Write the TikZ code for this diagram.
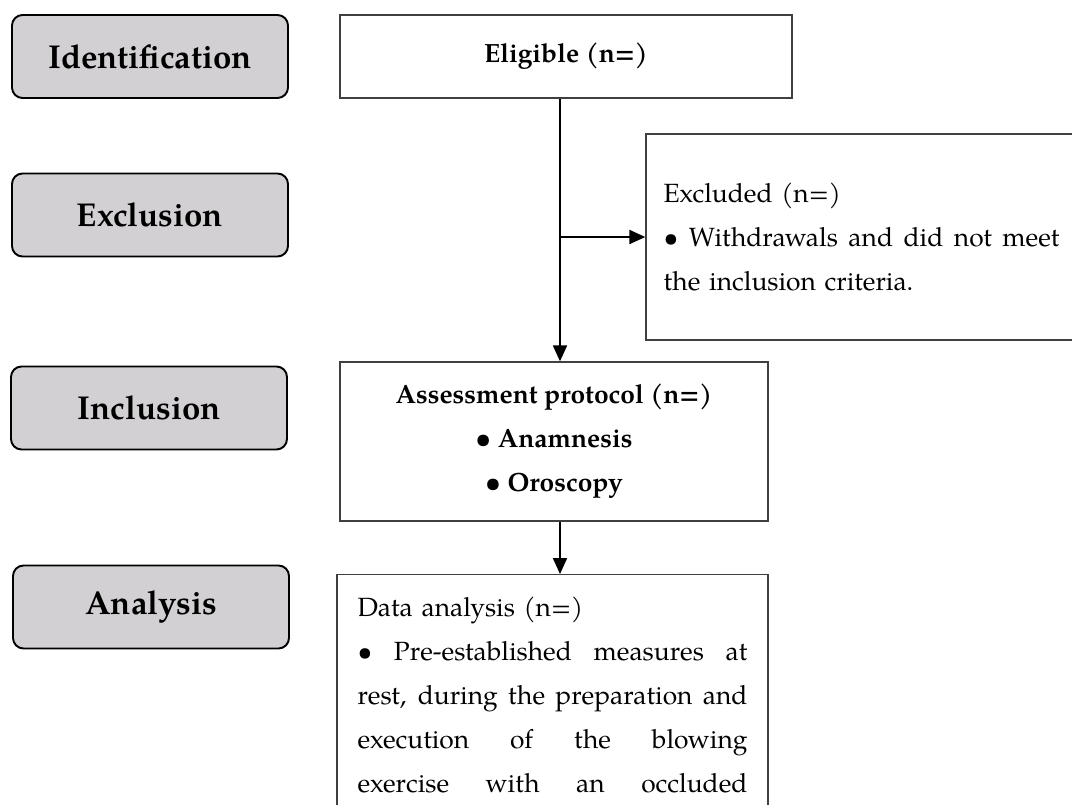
\documentclass[tikz,border=0pt]{standalone}
\usepackage{fontspec}
\setmainfont{texgyrepagella}[Extension=.otf,UprightFont=*-regular,BoldFont=*-bold,ItalicFont=*-italic,BoldItalicFont=*-bolditalic]
\usetikzlibrary{arrows.meta}
\definecolor{stagegray}{RGB}{210,208,210}
\newcommand{\jline}[2][7.8cm]{\leavevmode\hbox to #1{\spaceskip=0.25em plus 1fil\relax #2}}

\begin{document}
\begin{tikzpicture}[x=0.2mm,y=-0.2mm,>={Triangle[length=9pt,width=8pt]},
    stage/.style={draw,line width=1.1pt,rounded corners=6pt,fill=stagegray,
      minimum width=5.52cm,minimum height=1.66cm,font=\fontsize{18.8}{22}\selectfont\bfseries},
    flowbox/.style={draw=black!75,line width=0.8pt,font=\fontsize{15}{25}\selectfont},
    link/.style={->,line width=0.8pt}]
    \useasboundingbox (0,0) rectangle (1072,805);
    \clip (0,0) rectangle (1072,805);
    % stages
    \node[stage] (ident) at (150,56.5) {Identification};
    \node[stage] (exclu) at (150,215) {Exclusion};
    \node[stage] (inclu) at (149,408) {Inclusion};
    \node[stage] (analy) at (151,607) {Analysis};
    % eligible and excluded
    \node[flowbox,minimum width=9.04cm,minimum height=1.66cm] (elig) at (566,56.5) {\bfseries Eligible (n=)};
    \node[flowbox,text width=7.92cm,inner xsep=0.35cm,minimum height=4.12cm,align=left] (excl) at (861.5,237)
      {Excluded (n=)\\ \jline[7.92cm]{\textbullet{} Withdrawals and did not meet}\\ the inclusion criteria.};
    % assessment
    \node[flowbox,minimum width=8.56cm,minimum height=3.18cm,align=center] (assess) at (554,441.5)
      {\bfseries Assessment protocol (n=)\\ \bfseries\textbullet\ Anamnesis\\ \bfseries\textbullet\ Oroscopy};
    % analysis
    \node[flowbox,anchor=north,text width=7.8cm,inner xsep=0.41cm,inner ysep=0.44cm,align=left] (data) at (552.5,574)
      {Data analysis (n=)\\
       \jline{\textbullet{} Pre-established measures at}\\
       \jline{rest, during the preparation and}\\
       \jline{execution of the blowing}\\
       \jline{exercise with an occluded}};
    % arrows
    \coordinate (spine) at (560,0);
    \draw[link] (elig.south -| spine) -- (assess.north -| spine);
    \draw[link] (excl.west -| spine) -- (excl.west);
    \draw[link] (assess.south -| spine) -- (data.north -| spine);
\end{tikzpicture}
\end{document}
